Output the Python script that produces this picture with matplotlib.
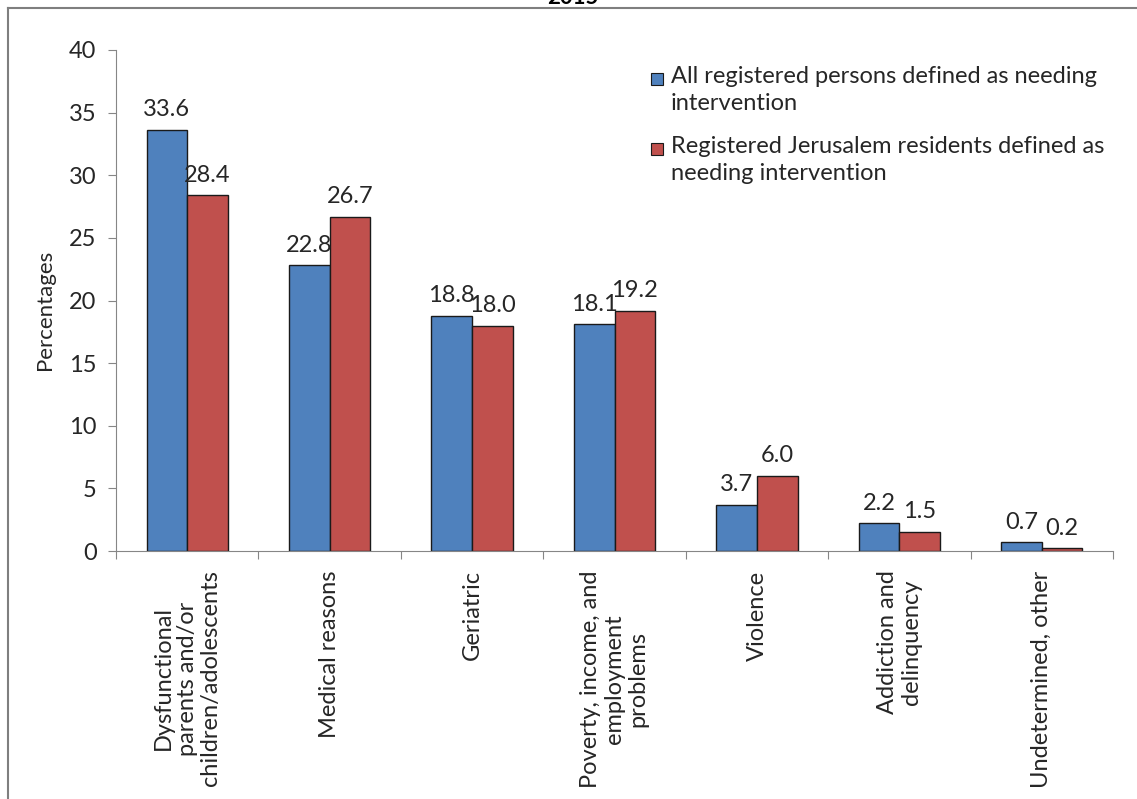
import numpy as np
import matplotlib
matplotlib.use("Agg")
import matplotlib.pyplot as plt
from matplotlib.patches import Rectangle

plt.rcParams["font.family"] = ["Lato", "DejaVu Sans"]

categories = [
    "Dysfunctional\nparents and/or\nchildren/adolescents",
    "Medical reasons",
    "Geriatric",
    "Poverty, income, and\nemployment\nproblems",
    "Violence",
    "Addiction and\ndelinquency",
    "Undetermined, other",
]
all_registered = [33.6, 22.8, 18.8, 18.1, 3.7, 2.2, 0.7]
jerusalem = [28.4, 26.7, 18.0, 19.2, 6.0, 1.5, 0.2]
series_labels = [
    "All registered persons defined as needing\nintervention",
    "Registered Jerusalem residents defined as\nneeding intervention",
]
year_title = "2015"

BLUE = "#4F81BD"
RED = "#C0504D"
TEXT = "#262626"
AXIS = "#868686"
FS = 17

W, H = 1137, 799
fig = plt.figure(figsize=(W / 100, H / 100), dpi=100)
ax = fig.add_axes([116 / W, 1 - 551 / H, (1113 - 116) / W, (551 - 50) / H])

x = np.arange(len(categories))
bw = 0.285
b1 = ax.bar(x - bw / 2, all_registered, bw, color=BLUE, edgecolor="#1a1a1a", linewidth=1)
b2 = ax.bar(x + bw / 2, jerusalem, bw, color=RED, edgecolor="#1a1a1a", linewidth=1)
for bars in (b1, b2):
    ax.bar_label(bars, fmt="%.1f", padding=7, fontsize=FS, color=TEXT)

ax.set_xlim(-0.5, len(categories) - 0.5)
ax.set_ylim(0, 40)
ax.set_yticks(np.arange(0, 41, 5))
ax.tick_params(axis="y", labelsize=FS, colors=AXIS, labelcolor=TEXT, length=6, pad=8)

# category boundaries carry the tick marks, centres carry the labels
ax.set_xticks(np.arange(len(categories) + 1) - 0.5)
ax.set_xticklabels([])
ax.tick_params(axis="x", which="major", colors=AXIS, length=6)
ax.set_xticks(x, minor=True)
ax.set_xticklabels(categories, minor=True, rotation=90, fontsize=FS, color=TEXT,
                   ha="center", va="top", multialignment="center", linespacing=1.15)
ax.tick_params(axis="x", which="minor", length=0, pad=14)

for side in ("top", "right"):
    ax.spines[side].set_visible(False)
for side in ("left", "bottom"):
    ax.spines[side].set_color(AXIS)

fig.text(45 / W, 1 - 310 / H, "Percentages", rotation=90, fontsize=FS - 1, color=TEXT,
         ha="center", va="center")

# legend: square swatch beside the first line of each wrapped label
for i, (lab, col) in enumerate(zip(series_labels, [BLUE, RED])):
    ytop = 1 - (66 + i * 70) / H
    fig.patches.append(Rectangle((651 / W, ytop - 19 / H), 12 / W, 12 / H,
                                 transform=fig.transFigure, facecolor=col,
                                 edgecolor="#1a1a1a", linewidth=0.8))
    fig.text(671 / W, ytop, lab, fontsize=FS, color=TEXT, ha="left", va="top",
             linespacing=1.35)

# outer frame and the clipped heading above it
fig.add_artist(plt.Line2D([8 / W, 1.0], [1 - 8 / H] * 2, color="#7f7f7f", lw=1.5))
fig.add_artist(plt.Line2D([8 / W] * 2, [0, 1 - 8 / H], color="#7f7f7f", lw=1.5))
fig.text(573 / W, 1 - 4 / H, year_title, fontsize=16, fontweight="bold", color="black",
         ha="center", va="baseline")

fig.savefig("out.png", dpi=100, facecolor="white")
